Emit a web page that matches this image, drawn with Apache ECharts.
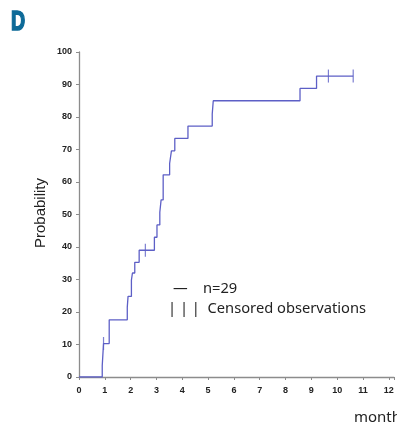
<!DOCTYPE html>
<html>
<head>
<meta charset="utf-8">
<script src="https://cdn.jsdelivr.net/npm/echarts@6/dist/echarts.min.js"></script>
<style>
  html, body { margin: 0; padding: 0; background: #fff; }
  #chart { width: 397px; height: 426px; }
</style>
</head>
<body>
<div id="chart"></div>
<script>
// Kaplan-Meier style step curve: time (months) and cumulative probability (%)
var times = [0, 0.9, 0.95, 1.17, 1.87, 1.9, 2.03, 2.07, 2.16, 2.33, 2.92, 3.02, 3.13, 3.18, 3.26, 3.51, 3.58, 3.71, 4.22, 5.16, 5.2, 8.56, 9.2, 10.62];
var probs = [0, 3.5, 10.3, 17.6, 21.5, 24.8, 29.8, 32.0, 35.3, 39.0, 43.0, 46.8, 50.7, 54.5, 62.2, 65.7, 69.6, 73.4, 77.2, 80.9, 85.0, 88.8, 92.6, 92.6];
// censored observations
var censorTimes = [0.95, 2.57, 9.66, 10.62];
var censorProbs = [10.3, 39.0, 92.6, 92.6];
var xTicks = [0, 1, 2, 3, 4, 5, 6, 7, 8, 9, 10, 11, 12];
var yTicks = [0, 10, 20, 30, 40, 50, 60, 70, 80, 90, 100];

var lineColor = '#5d5fc6';
var chart = echarts.init(document.getElementById('chart'));

var curve = times.map(function (t, i) { return [t, probs[i]]; });
var censored = censorTimes.map(function (t, i) { return [t, censorProbs[i]]; });

var option = {
  animation: false,
  grid: {
    left: 79,
    right: 2,
    top: 52,
    bottom: 49,
  },
  xAxis: {
    type: 'value',
    min: xTicks[0],
    max: 12.2,
    interval: 1,
    axisLine: { lineStyle: { color: '#8c8c8c', width: 1.3 } },
    axisTick: { show: true, length: 3, lineStyle: { color: '#8c8c8c' } },
    axisLabel: {
      color: '#222',
      fontSize: 9,
      fontWeight: 'bold',
      fontFamily: 'Liberation Sans',
      margin: 9,
      formatter: function (v) {
        return xTicks.indexOf(v) >= 0 ? String(v) : '';
      },
    },
    splitLine: { show: false },
  },
  yAxis: {
    type: 'value',
    min: yTicks[0],
    max: yTicks[yTicks.length - 1],
    interval: 10,
    axisLine: { show: true, lineStyle: { color: '#8c8c8c', width: 1.3 } },
    axisTick: { show: true, length: 3, lineStyle: { color: '#8c8c8c' } },
    axisLabel: {
      color: '#222',
      fontSize: 9,
      fontWeight: 'bold',
      fontFamily: 'Liberation Sans',
      margin: 7,
    },
    splitLine: { show: false },
  },
  series: [
    {
      type: 'line',
      step: 'end',
      data: curve,
      showSymbol: false,
      lineStyle: { color: lineColor, width: 1.3 },
      z: 3,
    },
    {
      type: 'scatter',
      data: censored,
      symbol: 'rect',
      symbolSize: [1.2, 13],
      itemStyle: { color: lineColor },
      z: 4,
    },
  ],
  graphic: [
    {
      type: 'text',
      x: 11,
      y: 8,
      scaleX: 0.7,
      style: {
        text: 'D',
        fill: '#0d6a98',
        stroke: '#0d6a98',
        lineWidth: 1.6,
        fontSize: 28,
        fontWeight: 'bold',
        fontFamily: 'Liberation Sans',
      },
    },
    {
      type: 'text',
      x: 41,
      y: 213,
      rotation: Math.PI / 2,
      style: {
        text: 'Probability',
        fill: '#222',
        font: '15px "Liberation Sans", Arial, sans-serif',
        align: 'center',
        verticalAlign: 'middle',
      },
    },
    {
      type: 'text',
      x: 173,
      y: 289,
      style: {
        text: '—    n=29',
        fill: '#222',
        font: '14.7px "Noto Sans", sans-serif',
        verticalAlign: 'middle',
      },
    },
    {
      type: 'text',
      x: 168,
      y: 309,
      style: {
        text: '| | |  Censored observations',
        fill: '#222',
        font: '14.7px "Noto Sans", sans-serif',
        verticalAlign: 'middle',
      },
    },
    {
      type: 'text',
      x: 354,
      y: 418,
      style: {
        text: 'months',
        fill: '#222',
        font: '15px "Noto Sans", sans-serif',
        verticalAlign: 'middle',
      },
    },
  ],
};

chart.setOption(option);
</script>
</body>
</html>
